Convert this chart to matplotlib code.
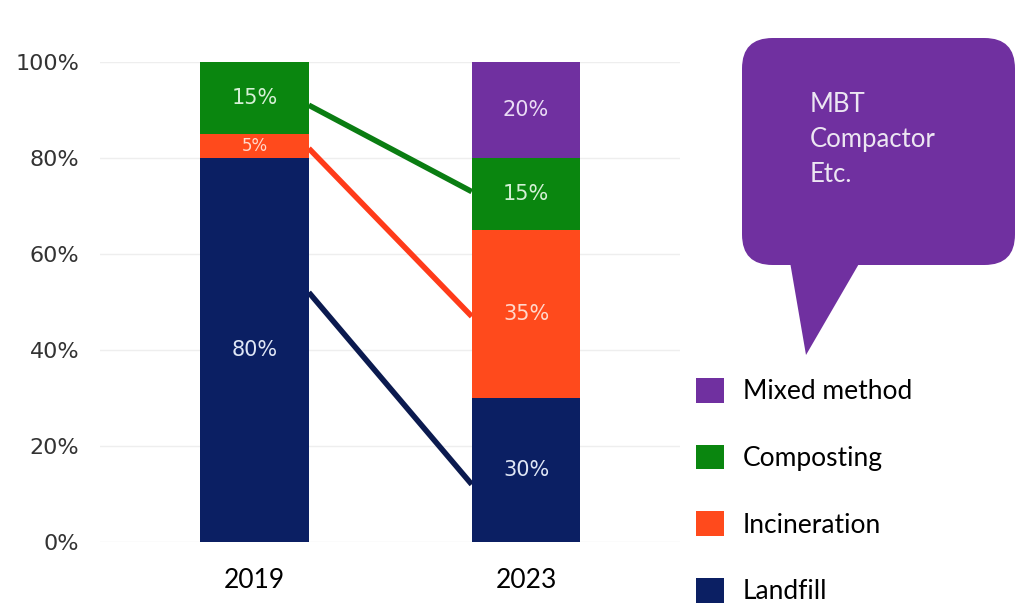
import matplotlib
matplotlib.use("Agg")
import matplotlib.pyplot as plt
from matplotlib.patches import Patch, FancyBboxPatch, Polygon

# data
years = ["2019", "2023"]
categories = ["Landfill", "Incineration", "Composting", "Mixed method"]
landfill = [80, 30]
incineration = [5, 35]
composting = [15, 15]
mixed = [0, 20]
colors = ["#0b1f63", "#ff4a1c", "#0a860f", "#7030a0"]
label_colors = ["#dfe6f5", "#ffd9cc", "#d6f0d6", "#eadcf5"]

# connector lines (2019 -> 2023), values in %
conn_start = [52, 82, 91]
conn_end = [12, 47, 73]
conn_colors = ["#0b1a4f", "#ff3b1a", "#0a7d12"]

bubble_lines = ["MBT", "Compactor", "Etc."]

W, H = 1017, 604
fig = plt.figure(figsize=(W / 100, H / 100), dpi=100)


def fx(px):
    return px / W


def fy(py):
    return 1 - py / H


ax = fig.add_axes([fx(100), fy(542), fx(680) - fx(100), fy(62) - fy(542)])

x = [0, 1]
bar_w = 0.4
series = [landfill, incineration, composting, mixed]
bottom = [0, 0]
for vals, col, lcol in zip(series, colors, label_colors):
    ax.bar(x, vals, bar_w, bottom=bottom, color=col, zorder=3)
    for i, v in enumerate(vals):
        if v > 0:
            fs = 12 if v < 10 else 15
            ax.text(x[i], bottom[i] + v / 2, f"{v}%", ha="center", va="center",
                    color=lcol, fontsize=fs, family="DejaVu Sans", zorder=4)
    bottom = [b + v for b, v in zip(bottom, vals)]

for s, e, c in zip(conn_start, conn_end, conn_colors):
    ax.plot([x[0] + bar_w / 2, x[1] - bar_w / 2], [s, e], color=c, lw=4,
            solid_capstyle="butt", zorder=2)

ax.set_xlim(-0.569, 1.567)
ax.set_ylim(0, 100)
ax.set_yticks([0, 20, 40, 60, 80, 100])
ax.set_yticklabels(["0%", "20%", "40%", "60%", "80%", "100%"])
ax.set_xticks(x)
ax.set_xticklabels(years)
ax.tick_params(axis="y", length=0, pad=15, labelsize=16, labelcolor="#333333")
ax.tick_params(axis="x", length=0, pad=19, labelsize=19)
for lbl in ax.get_xticklabels():
    lbl.set_family("Lato")
ax.grid(axis="y", color="#eeeeee", lw=1, zorder=0)
for sp in ax.spines.values():
    sp.set_visible(False)

# speech bubble
box = FancyBboxPatch((fx(742), fy(265)), fx(1015) - fx(742), fy(38) - fy(265),
                     boxstyle="round,pad=0,rounding_size=0.03",
                     transform=fig.transFigure, facecolor="#7030a0",
                     edgecolor="none", mutation_aspect=W / H)
fig.patches.append(box)
tail = Polygon([(fx(790), fy(262)), (fx(860), fy(262)), (fx(806), fy(355))],
               closed=True, transform=fig.transFigure, facecolor="#7030a0",
               edgecolor="none")
fig.patches.append(tail)
for i, t in enumerate(bubble_lines):
    fig.text(fx(810), fy(105 + 35 * i), t, ha="left", va="center",
             color="#ece6f2", fontsize=18.5, family="Lato")

handles = [Patch(facecolor=c, edgecolor="none") for c in colors]
fig.legend(handles[::-1], categories[::-1], loc="upper left",
           bbox_to_anchor=(fx(696), fy(378)), frameon=False,
           prop={"family": "Lato", "size": 19}, borderpad=0,
           borderaxespad=0, labelspacing=1.53, handlelength=1.06,
           handleheight=1.06, handletextpad=0.72)

fig.savefig("out.png", dpi=100, facecolor="white")
